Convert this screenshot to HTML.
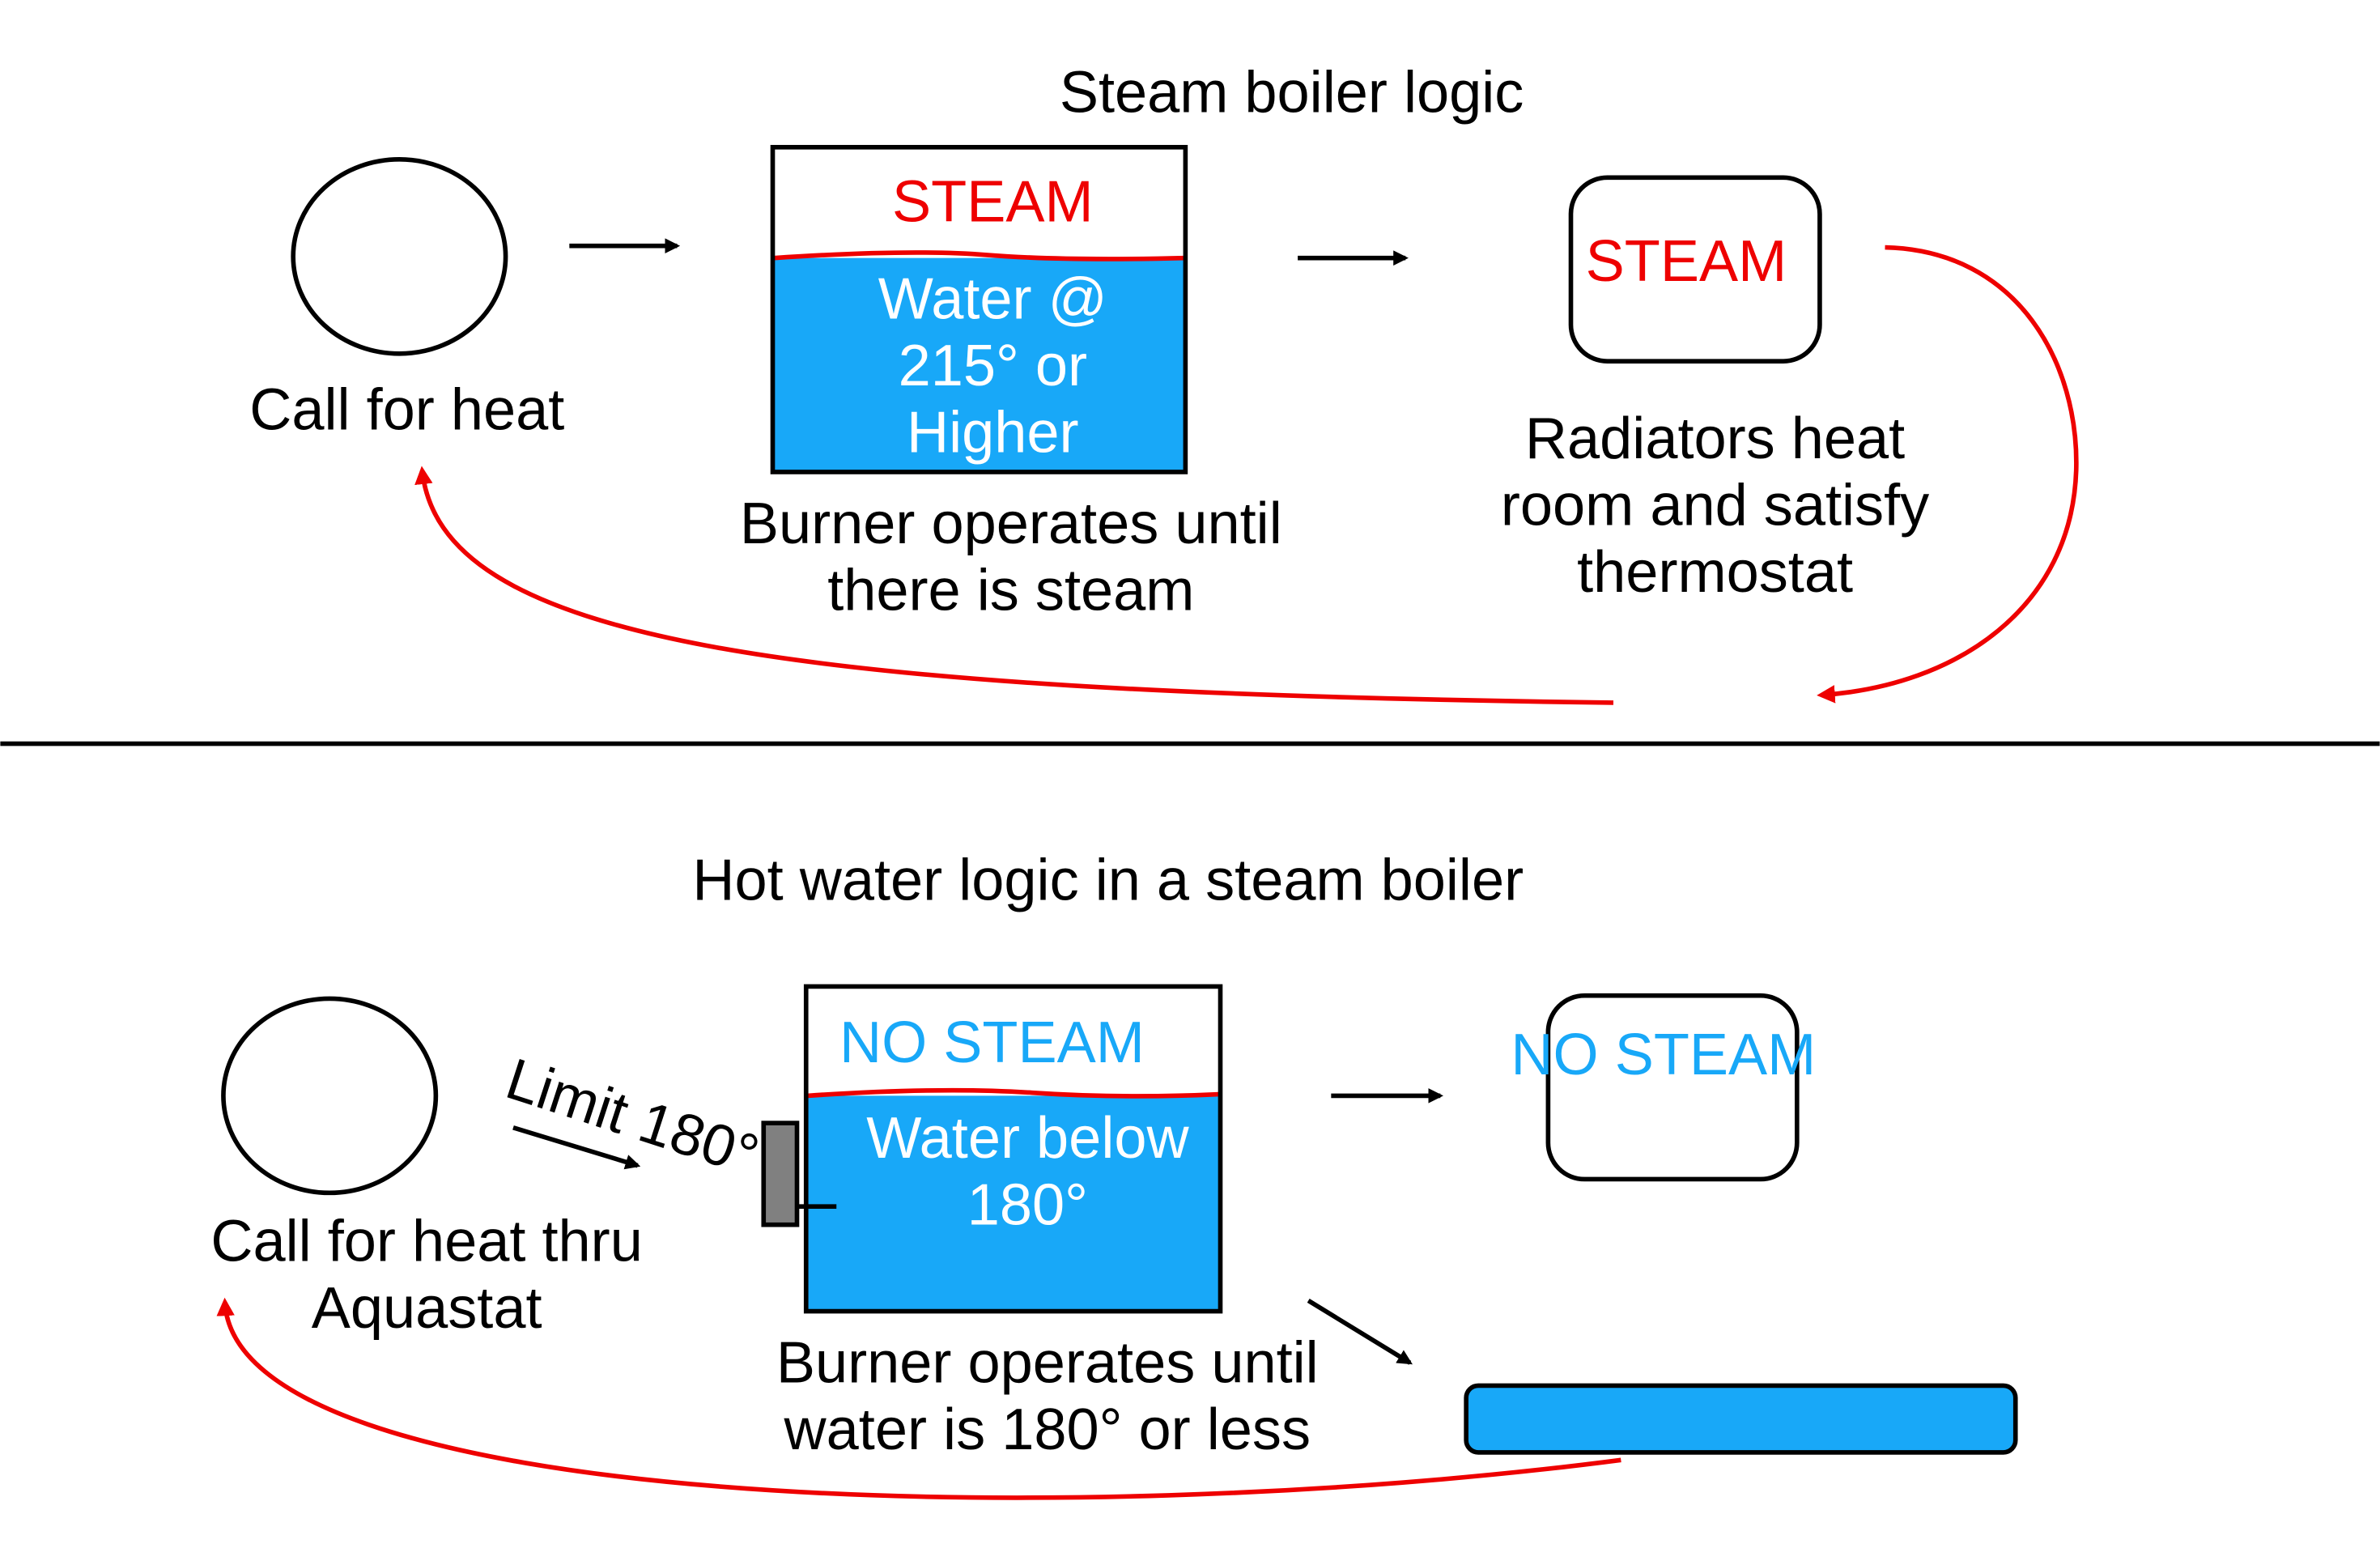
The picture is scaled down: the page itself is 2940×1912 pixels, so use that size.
<!DOCTYPE html>
<html><head><meta charset="utf-8"><style>
html,body{margin:0;padding:0;background:#fff;}
svg{display:block;}
text{font-family:"Liberation Sans",Arial,sans-serif;}
</style></head><body>
<svg width="2940" height="1912" viewBox="0 0 1568 1020" xmlns="http://www.w3.org/2000/svg">
<defs>
<marker id="ab" markerWidth="10" markerHeight="10" refX="8" refY="5" orient="auto" markerUnits="userSpaceOnUse"><path d="M0,0 L10,5 L0,10 z" fill="#000"/></marker>
<marker id="ar" markerWidth="12" markerHeight="12" refX="9" refY="6" orient="auto" markerUnits="userSpaceOnUse"><path d="M0,0 L12,6 L0,12 z" fill="#e00"/></marker>
</defs>
<rect width="1568" height="1020" fill="#fff"/>
<text x="851" y="74" font-size="38.5" text-anchor="middle">Steam boiler logic</text>
<ellipse cx="263" cy="169" rx="70" ry="64" fill="none" stroke="#000" stroke-width="3"/>
<text x="268" y="283" font-size="38.5" text-anchor="middle">Call for heat</text>
<line x1="375" y1="162" x2="446" y2="162" stroke="#000" stroke-width="3" marker-end="url(#ab)"/>
<rect x="510" y="170" width="270" height="140" fill="#18a8f8"/>
<path d="M510,170 Q600,164 650,168 T780,170" fill="none" stroke="#e00" stroke-width="3"/>
<rect x="509" y="97" width="272" height="214" fill="none" stroke="#000" stroke-width="3"/>
<text x="654" y="146" font-size="38.5" fill="#e00" text-anchor="middle">STEAM</text>
<g font-size="38.5" fill="#fff" text-anchor="middle">
<text x="654" y="210">Water @</text><text x="654" y="254">215° or</text><text x="654" y="298">Higher</text></g>
<g font-size="38.5" text-anchor="middle"><text x="666" y="358">Burner operates until</text><text x="666" y="402">there is steam</text></g>
<line x1="855" y1="170" x2="926" y2="170" stroke="#000" stroke-width="3" marker-end="url(#ab)"/>
<rect x="1035" y="117" width="164" height="121" rx="24" fill="none" stroke="#000" stroke-width="3"/>
<text x="1111" y="185" font-size="38.5" fill="#e00" text-anchor="middle">STEAM</text>
<g font-size="38.5" text-anchor="middle"><text x="1130" y="302">Radiators heat</text><text x="1130" y="346">room and satisfy</text><text x="1130" y="390">thermostat</text></g>
<path d="M1242,163 C1330,165 1370,240 1368,310 C1365,400 1290,452 1200,458" fill="none" stroke="#e00" stroke-width="3" marker-end="url(#ar)"/>
<path d="M1063,463 C500,456 290,420 278,310" fill="none" stroke="#e00" stroke-width="3" marker-end="url(#ar)"/>
<line x1="0" y1="490" x2="1568" y2="490" stroke="#000" stroke-width="3"/>
<text x="730" y="593" font-size="38.5" text-anchor="middle">Hot water logic in a steam boiler</text>
<ellipse cx="217" cy="722" rx="70" ry="64" fill="none" stroke="#000" stroke-width="3"/>
<g font-size="38.5" text-anchor="middle"><text x="281" y="831">Call for heat thru</text><text x="281" y="875">Aquastat</text></g>
<text x="331" y="722" font-size="38.5" transform="rotate(18 331 722)">Limit 180°</text>
<line x1="338" y1="743" x2="420" y2="768" stroke="#000" stroke-width="3" marker-end="url(#ab)"/>
<rect x="532" y="722" width="271" height="141" fill="#18a8f8"/>
<path d="M532,722 Q620,716 680,720 T803,721" fill="none" stroke="#e00" stroke-width="3"/>
<rect x="531" y="650" width="273" height="214" fill="none" stroke="#000" stroke-width="3"/>
<rect x="503" y="740" width="22" height="67" fill="#808080" stroke="#000" stroke-width="3"/>
<line x1="524" y1="795" x2="551" y2="795" stroke="#000" stroke-width="3"/>
<text x="553" y="700" font-size="38.5" fill="#18a8f8">NO STEAM</text>
<g font-size="38.5" fill="#fff" text-anchor="middle"><text x="677" y="763">Water below</text><text x="677" y="807">180°</text></g>
<g font-size="38.5" text-anchor="middle"><text x="690" y="911">Burner operates until</text><text x="690" y="955">water is 180° or less</text></g>
<line x1="877" y1="722" x2="949" y2="722" stroke="#000" stroke-width="3" marker-end="url(#ab)"/>
<rect x="1020" y="656" width="164" height="121" rx="24" fill="none" stroke="#000" stroke-width="3"/>
<text x="1096" y="708" font-size="38.5" fill="#18a8f8" text-anchor="middle">NO STEAM</text>
<line x1="862" y1="857" x2="929" y2="898" stroke="#000" stroke-width="3" marker-end="url(#ab)"/>
<rect x="966" y="913" width="362" height="44" rx="8" fill="#18a8f8" stroke="#000" stroke-width="3"/>
<path d="M1068,962 C700,1010 155,995 148,858" fill="none" stroke="#e00" stroke-width="3" marker-end="url(#ar)"/>
</svg>
</body></html>
